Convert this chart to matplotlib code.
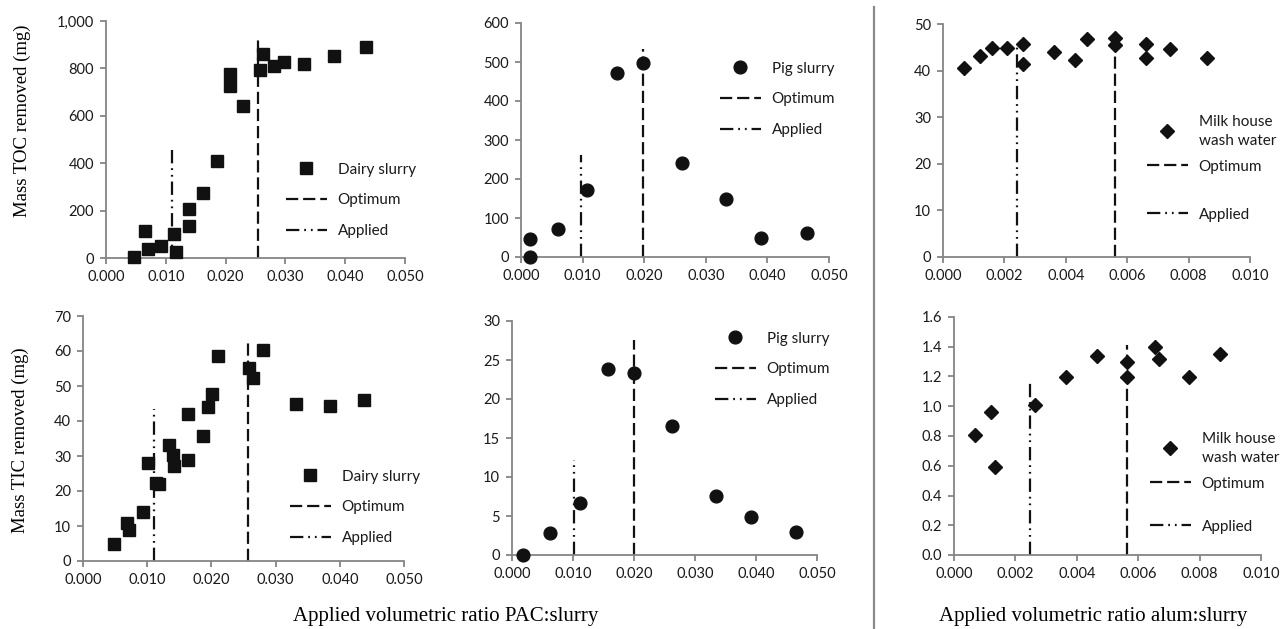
import matplotlib
matplotlib.use("Agg")
import matplotlib.pyplot as plt
from matplotlib.legend import Legend
from matplotlib.ticker import FuncFormatter, MultipleLocator

# ---- data ----
toc_dairy_x = [0.0046, 0.0066, 0.0070, 0.0092, 0.0114, 0.0117, 0.0139, 0.0139, 0.0163, 0.0185,
               0.0207, 0.0208, 0.0229, 0.0257, 0.0263, 0.0281, 0.0297, 0.0331, 0.0382, 0.0434]
toc_dairy_y = [5, 116, 38, 52, 101, 25, 206, 133, 273, 410,
               778, 725, 641, 795, 862, 812, 828, 819, 851, 891]

toc_pig_x = [0.0014, 0.0014, 0.0060, 0.0107, 0.0156, 0.0198, 0.0261, 0.0333, 0.0390, 0.0464]
toc_pig_y = [47, 1, 73, 172, 472, 497, 242, 150, 50, 61]

toc_milk_x = [0.0007, 0.0012, 0.0016, 0.0021, 0.0026, 0.0026, 0.0036, 0.0043, 0.0047, 0.0056,
              0.0056, 0.0066, 0.0066, 0.0074, 0.0086]
toc_milk_y = [40.5, 43.1, 44.9, 44.9, 45.8, 41.5, 43.9, 42.2, 46.7, 47.1,
              45.6, 45.8, 42.6, 44.7, 42.6]

tic_dairy_x = [0.0048, 0.0068, 0.0072, 0.0094, 0.0101, 0.0114, 0.0118, 0.0134, 0.0140, 0.0141, 0.0163,
               0.0164, 0.0187, 0.0194, 0.0201, 0.0210, 0.0258, 0.0265, 0.0281, 0.0332, 0.0384, 0.0438]
tic_dairy_y = [4.8, 11.0, 8.8, 13.9, 28.1, 22.3, 22.1, 33.2, 30.4, 27.1, 42.1,
               28.9, 35.7, 44.1, 47.8, 58.5, 55.2, 52.4, 60.2, 45.0, 44.4, 46.1]

tic_pig_x = [0.0018, 0.0063, 0.0111, 0.0157, 0.0200, 0.0263, 0.0335, 0.0392, 0.0465]
tic_pig_y = [0, 2.8, 6.7, 23.8, 23.3, 16.6, 7.6, 4.9, 2.9]

tic_milk_x = [0.00067, 0.00122, 0.00135, 0.00265, 0.00364, 0.00466, 0.00563, 0.00563,
              0.00654, 0.00667, 0.00765, 0.00867]
tic_milk_y = [0.81, 0.96, 0.59, 1.01, 1.20, 1.34, 1.295, 1.20, 1.40, 1.32, 1.20, 1.35]

# optimum / applied ratios and how high their guide lines reach
opt_x = [0.0255, 0.0198, 0.0056, 0.0257, 0.0200, 0.00564]
opt_top = [935, 533, 47, 63.5, 27.6, 1.41]
app_x = [0.0110, 0.0098, 0.0024, 0.0111, 0.0101, 0.00246]
app_top = [473, 262, 46, 43.5, 12.2, 1.18]

series_names = ["Dairy slurry", "Pig slurry", "Milk house\nwash water"]
y_labels = ["Mass TOC removed (mg)", "Mass TIC removed (mg)"]
x_labels = ["Applied volumetric ratio PAC:slurry", "Applied volumetric ratio alum:slurry"]

# ---- style ----
W, H = 1282, 629
TICK_FONT = "Lato"
SERIF = "Liberation Serif"
GRAY = "#858585"
INK = "#111111"

fig = plt.figure(figsize=(W / 100, H / 100), dpi=100)


def px_axes(x0, y0, x1, y1):
    return fig.add_axes([x0 / W, 1 - y1 / H, (x1 - x0) / W, (y1 - y0) / H])


def add_legend(ax, handles, x, y, spacing):
    lg = Legend(ax, handles, [h.get_label() for h in handles], loc="upper left",
                bbox_to_anchor=(x / W, 1 - y / H), bbox_transform=fig.transFigure,
                frameon=False, borderpad=0, handlelength=2.7, handletextpad=0.7,
                labelspacing=spacing, prop={"family": TICK_FONT, "size": 11})
    for t in lg.get_texts():
        t.set_color("#1a1a1a")
        t.set_linespacing(1.45)
    ax.add_artist(lg)
    return lg


panels = [
    # box (px), x data, y data, marker, ymax, ystep, xmax, xstep, y fmt
    ((106, 21, 405, 258), toc_dairy_x, toc_dairy_y, "s", 1000, 200, 0.05, 0.01, "{:,.0f}"),
    ((521, 23, 829, 257), toc_pig_x, toc_pig_y, "o", 600, 100, 0.05, 0.01, "{:.0f}"),
    ((943, 24, 1250, 257), toc_milk_x, toc_milk_y, "D", 50, 10, 0.01, 0.002, "{:.0f}"),
    ((83, 316, 404, 561), tic_dairy_x, tic_dairy_y, "s", 70, 10, 0.05, 0.01, "{:.0f}"),
    ((512, 321, 817, 555), tic_pig_x, tic_pig_y, "o", 30, 5, 0.05, 0.01, "{:.0f}"),
    ((954, 317, 1261, 555), tic_milk_x, tic_milk_y, "D", 1.6, 0.2, 0.01, 0.002, "{:.1f}"),
]
# legend placement: (left px, top px, row spacing) or (left, top, None, top of "Applied" row)
legend_pos = [
    (278, 155, 1.1),
    (712, 54, 1.1),
    (1139, 107, None, 200),
    (282, 462, 1.1),
    (707, 324, 1.1),
    (1142, 424, None, 512),
]
marker_size = {"s": 8.6, "o": 9.2, "D": 7.4}

for i, (box, xs, ys, mk, ymax, ystep, xmax, xstep, yfmt) in enumerate(panels):
    ax = px_axes(*box)
    pts, = ax.plot(xs, ys, mk, ms=marker_size[mk], color=INK, mec=INK, clip_on=False, zorder=3,
                   label=series_names[i % 3])
    opt = ax.vlines(opt_x[i], 0, opt_top[i], colors=INK, lw=1.6,
                    linestyles=[(0, (5.5, 2.2))], label="Optimum")
    app = ax.vlines(app_x[i], 0, app_top[i], colors=INK, lw=1.6,
                    linestyles=[(0, (6.0, 2.2, 0.8, 2.2, 0.8, 2.2))], label="Applied")
    ax.set_xlim(0, xmax)
    ax.set_ylim(0, ymax)
    ax.xaxis.set_major_locator(MultipleLocator(xstep))
    ax.yaxis.set_major_locator(MultipleLocator(ystep))
    ax.xaxis.set_major_formatter(FuncFormatter(lambda v, p: f"{v:.3f}"))
    ax.yaxis.set_major_formatter(FuncFormatter(lambda v, p, f=yfmt: f.format(v)))
    for side in ("top", "right"):
        ax.spines[side].set_visible(False)
    for side in ("left", "bottom"):
        ax.spines[side].set_color(GRAY)
        ax.spines[side].set_linewidth(1.3)
    ax.tick_params(direction="out", length=4.5, width=1.3, color=GRAY,
                   labelsize=10.5, labelcolor="#1a1a1a", pad=4)
    for lab in ax.get_xticklabels() + ax.get_yticklabels():
        lab.set_family(TICK_FONT)
    ax.patch.set_alpha(0)

    lp = legend_pos[i]
    if lp[2] is not None:
        add_legend(ax, [pts, opt, app], lp[0], lp[1], lp[2])
    else:
        add_legend(ax, [pts, opt], lp[0], lp[1], 0.8)
        add_legend(ax, [app], lp[0], lp[3], 0.8)

# y-axis titles
fig.text(22 / W, 1 - 121 / H, y_labels[0], rotation=90, ha="center", va="center",
         family=SERIF, fontsize=13.5)
fig.text(20 / W, 1 - 440 / H, y_labels[1], rotation=90, ha="center", va="center",
         family=SERIF, fontsize=13.5)
# x-axis titles
fig.text(446 / W, 1 - 617 / H, x_labels[0], ha="center", va="center", family=SERIF, fontsize=15)
fig.text(1093 / W, 1 - 617 / H, x_labels[1], ha="center", va="center", family=SERIF, fontsize=15)

# separator between PAC and alum panels
fig.add_artist(plt.Line2D([874 / W, 874 / W], [1 - 7 / H, 0], color="#8a8a8a", lw=1.6))

fig.savefig("out.png", dpi=100)
